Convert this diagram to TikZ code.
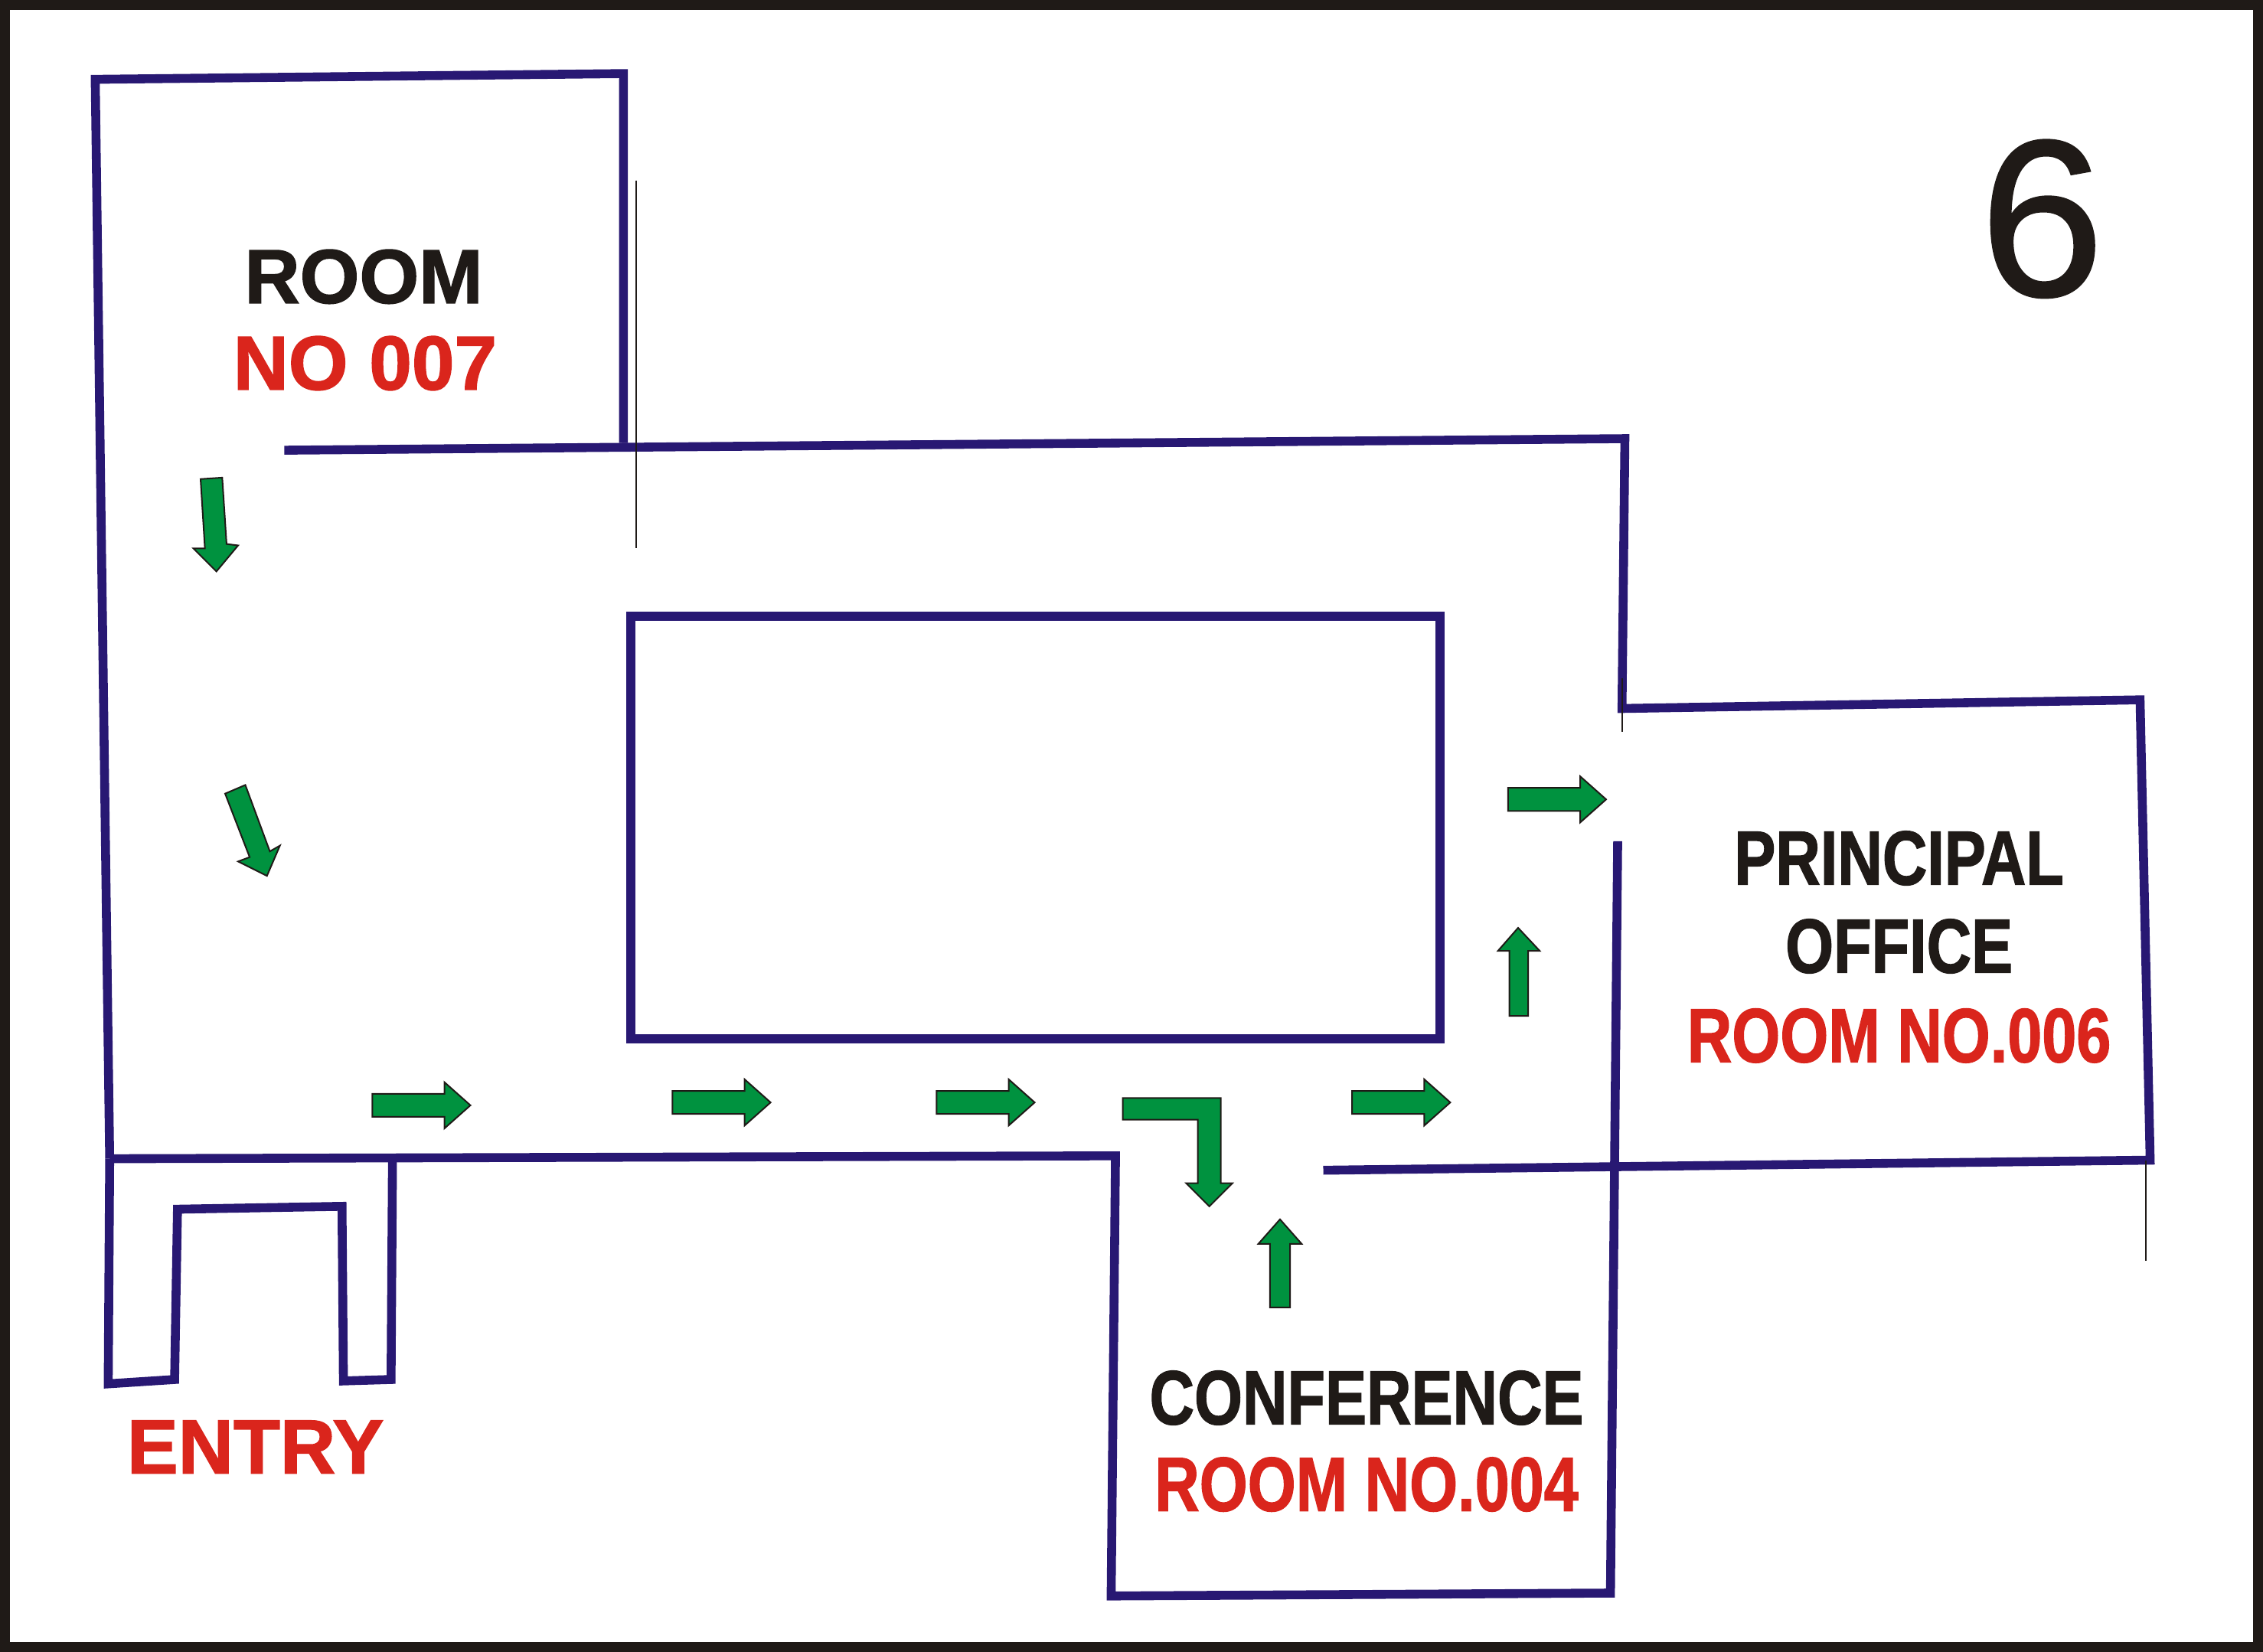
\documentclass[tikz,border=0pt]{standalone}
\usepackage{fontspec}
\usepackage{graphicx}
\setmainfont{Liberation Sans}
\newfontfamily\heavyfont{Liberation Sans Bold}[FakeBold=1.5]
\newfontfamily\sixfont{Liberation Sans}[FakeBold=0.8]
\definecolor{wallc}{HTML}{281873}
\definecolor{redc}{HTML}{DA251C}
\definecolor{greenc}{HTML}{00923F}
\definecolor{inkc}{HTML}{1F1A17}
\newcommand{\cond}[1]{\scalebox{.81}[1]{#1}}
\tikzset{
  x=0.47125pt,y=-0.47125pt,
  wall/.style={draw=wallc,line width=2.9pt,miter limit=10},
  thinline/.style={draw=inkc,line width=0.4pt},
  greenarrow/.style={draw=inkc,fill=greenc,line width=0.5pt,line join=miter},
  lab/.style={anchor=base,inner sep=0pt,font=\fontsize{25}{25}\heavyfont\selectfont},
  blk/.style={lab,text=inkc},
  rd/.style={lab,text=redc}
}
\begin{document}
\begin{tikzpicture}
\useasboundingbox (0,0) rectangle (1568.2,1144.8);
\fill[white] (0,0) rectangle (1568.2,1144.8);
\draw[inkc,line width=3.2pt] (3.4,3.4) rectangle (1564.8,1141.4);
% walls
\draw[wall] (197,312) -- (1126,304) -- (1124,491) -- (1483,485) -- (1490,804) -- (917,811);
\draw[wall] (432,307) -- (432,51) -- (66,55) -- (76,803);
\draw[wall] (76,803) -- (75,959) -- (121,956) -- (123,838) -- (237,836) -- (238,957) -- (271,956) -- (272,803);
\draw[wall] (76,803) -- (773,801) -- (770,1106) -- (1116,1104) -- (1121,583);
\draw[wall] (437,427) rectangle (998,720);
% thin guide lines
\draw[thinline] (441,125) -- (441,380);
\draw[thinline] (1124,470) -- (1124,507);
\draw[thinline] (1487,804) -- (1487,874);
% arrows
\draw[greenarrow] (139,332) -- (154,331) -- (157,377) -- (165,378) -- (150,396) -- (134,380) -- (142,380) -- cycle;
\draw[greenarrow] (156,550) -- (170,544) -- (187,590) -- (194,586) -- (185,607) -- (165,597) -- (173,594) -- cycle;
\draw[greenarrow] (258,758) -- (308,758) -- (308,750) -- (326,766) -- (308,782) -- (308,774) -- (258,774) -- cycle;
\draw[greenarrow] (466,756) -- (516,756) -- (516,748) -- (534,764) -- (516,780) -- (516,772) -- (466,772) -- cycle;
\draw[greenarrow] (649,756) -- (699,756) -- (699,748) -- (717,764) -- (699,780) -- (699,772) -- (649,772) -- cycle;
\draw[greenarrow] (778,761) -- (846,761) -- (846,820) -- (854,820) -- (838,836) -- (822,820) -- (830,820) -- (830,776) -- (778,776) -- cycle;
\draw[greenarrow] (937,756) -- (987,756) -- (987,748) -- (1005,764) -- (987,780) -- (987,772) -- (937,772) -- cycle;
\draw[greenarrow] (887,845) -- (902,862) -- (894,862) -- (894,906) -- (880,906) -- (880,862) -- (872,862) -- cycle;
\draw[greenarrow] (1052,643) -- (1067,659) -- (1059,659) -- (1059,704) -- (1046,704) -- (1046,659) -- (1038,659) -- cycle;
\draw[greenarrow] (1045,546) -- (1095,546) -- (1095,538) -- (1113,554) -- (1095,570) -- (1095,562) -- (1045,562) -- cycle;
% text
\node[blk] (room) at (252,210) {ROOM};
\node[rd] (no7) at (253,270) {NO 007};
\node[rd] (entry) at (177,1021) {ENTRY};
\node[blk] (principal) at (1316,613) {\cond{PRINCIPAL}};
\node[blk] (office) at (1316,674) {\cond{OFFICE}};
\node[rd] (r6) at (1316,736) {\cond{ROOM NO.006}};
\node[blk] (conf) at (947,987) {\cond{CONFERENCE}};
\node[rd] (r4) at (947,1047) {\cond{ROOM NO.004}};
\node[anchor=base,inner sep=0pt,text=inkc,font=\fontsize{73}{73}\sixfont\selectfont] (six) at (1415,205) {6};
\end{tikzpicture}
\end{document}
